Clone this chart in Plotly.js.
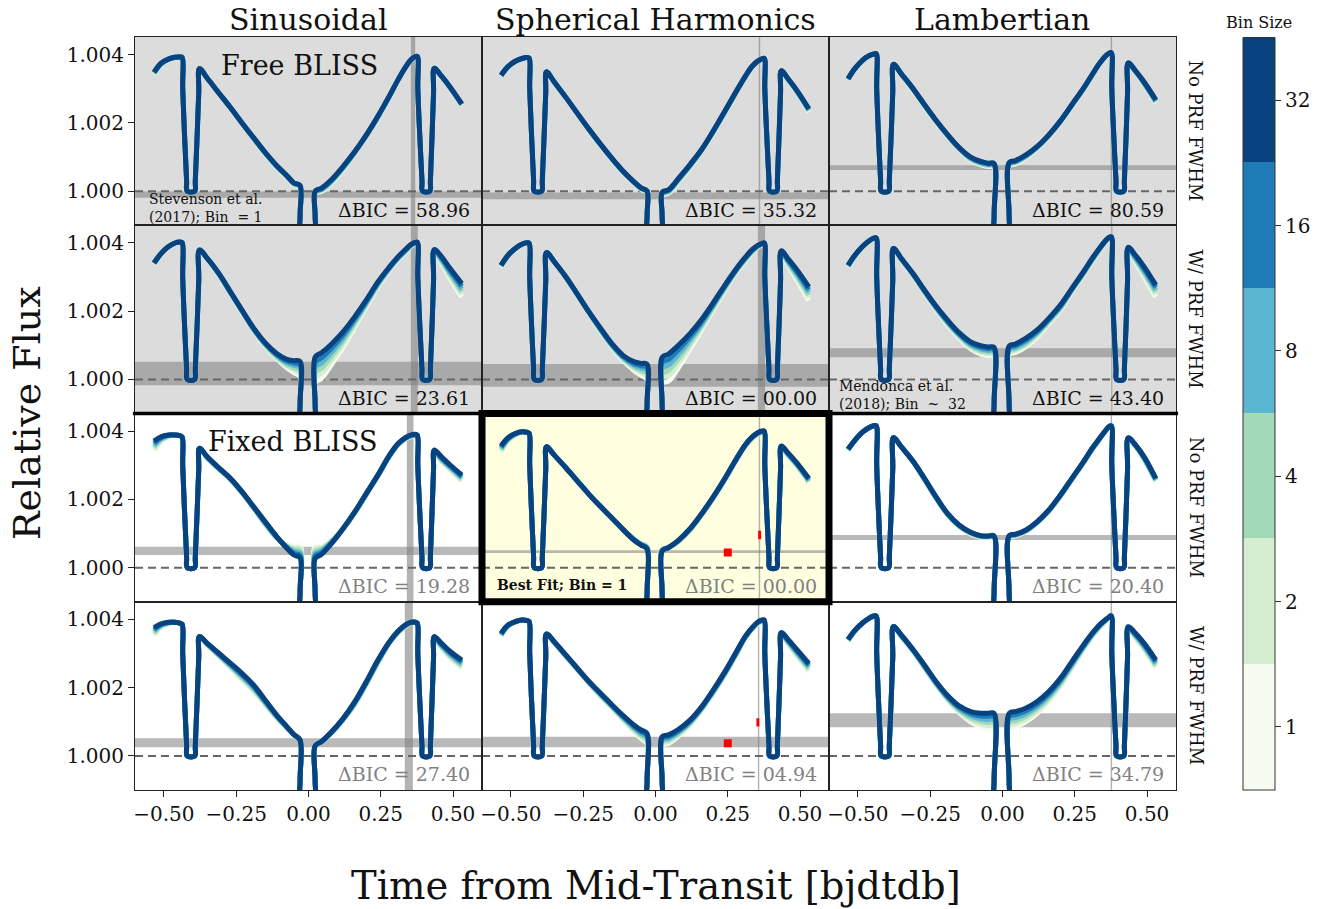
<!DOCTYPE html>
<html><head><meta charset="utf-8">
<script src="https://cdn.plot.ly/plotly-3.0.1.min.js"></script>
<style>html,body{margin:0;padding:0;background:#fff}#chart{width:1337px;height:909px}</style>
</head><body><div id="chart"></div>
<script>
// ---------- labels ----------
const MODELS = ['Sinusoidal', 'Spherical Harmonics', 'Lambertian'];
const ROW_LABELS = ['No PRF FWHM', 'W/ PRF FWHM', 'No PRF FWHM', 'W/ PRF FWHM'];
const BINS = ['1', '2', '4', '8', '16', '32'];
const BIN_COLORS = ['#f5fbef', '#d5eecf', '#a1dab8', '#5bb6d2', '#1f7bb6', '#08427f'];
const DBIC = ['58.96', '35.32', '80.59', '23.61', '00.00', '43.40', '19.28', '00.00', '20.40', '27.40', '04.94', '34.79'];
const X_TICKS = [-0.5, -0.25, 0, 0.25, 0.5];
const Y_TICKS = [1.000, 1.002, 1.004];
const X_RANGE = [-0.6, 0.6];
const Y_RANGE = [0.99900, 1.00452];
const BASELINE = 1.0;

// ---------- time grid (days from mid-transit) ----------
const T_LA = [-0.534, -0.510, -0.485, -0.462, -0.445, -0.437];
const T_ECL1 = [-0.435, -0.4215, -0.4195, -0.3935, -0.3915, -0.3795];
const V_ECL1 = [3000, 300, 0, 0, 300, 2900];
const T_DEC = [-0.377, -0.350, -0.310, -0.270, -0.230, -0.190, -0.150, -0.110, -0.075, -0.050, -0.0295];
const T_TRANSIT = [-0.0290, -0.0287, 0.0225, 0.0228];
const V_TRANSIT = [-700, -2500, -2500, -700];
const T_RISE = [0.0232, 0.045, 0.080, 0.120, 0.160, 0.200, 0.240, 0.280, 0.310, 0.335, 0.355, 0.368, 0.376];
const T_ECL2 = [0.378, 0.3925, 0.3945, 0.4195, 0.4215, 0.4325];
const V_ECL2 = [3000, 300, 0, 0, 300, 2900];
const T_END = [0.435, 0.460, 0.490, 0.530];

// ---------- flux (ppm above 1) : LA(6) | DEC(11) | RISE(13) | END(4) ----------
const R1C1_B32 = [3490,3750,3870,3925,3930,3920, 3590,3310,2880,2450,2000,1570,1140,750,460,240,170, 0,90,340,730,1160,1650,2200,2800,3270,3630,3860,3940,3950, 3600,3370,3050,2560];
const R1C1_B16 = [3480,3740,3870,3925,3930,3920, 3590,3310,2880,2450,2000,1560,1130,740,450,230,160, -10,70,320,710,1150,1640,2190,2790,3270,3630,3860,3940,3950, 3600,3370,3040,2550];
const R1C1_B8  = [3470,3730,3870,3925,3930,3920, 3590,3310,2880,2450,2000,1550,1120,730,440,220,150, -20,50,300,690,1140,1630,2180,2780,3270,3630,3860,3940,3950, 3600,3370,3030,2540];
const R1C1_B4  = [3460,3720,3870,3925,3930,3920, 3590,3310,2880,2450,2000,1540,1110,720,430,210,140, -30,30,280,670,1130,1620,2170,2770,3270,3630,3860,3940,3950, 3600,3370,3020,2530];
const R1C1_B2  = [3450,3710,3870,3925,3930,3920, 3590,3310,2880,2450,2000,1530,1100,710,420,200,130, -40,10,260,650,1120,1610,2160,2760,3270,3630,3860,3940,3950, 3600,3370,3010,2520];
const R1C1_B1  = [3440,3700,3870,3925,3930,3920, 3590,3310,2880,2450,2000,1520,1090,700,410,190,120, -50,-10,240,630,1110,1600,2150,2750,3270,3630,3860,3940,3950, 3600,3370,3000,2510];

const R1C2_B32 = [3400,3650,3810,3890,3920,3900, 3500,3200,2750,2280,1820,1380,960,570,280,100,10, -30,40,380,790,1230,1770,2350,2940,3360,3670,3820,3880,3890, 3530,3280,2940,2420];
const R1C2_B16 = [3400,3650,3810,3890,3920,3900, 3500,3200,2750,2280,1810,1370,950,560,270,90,0, -50,20,360,770,1220,1760,2340,2930,3360,3670,3820,3880,3890, 3530,3270,2930,2400];
const R1C2_B8  = [3400,3650,3810,3890,3920,3900, 3500,3200,2750,2280,1800,1360,940,550,260,80,-10, -70,0,340,750,1210,1750,2330,2920,3360,3670,3820,3880,3890, 3530,3260,2920,2380];
const R1C2_B4  = [3400,3650,3810,3890,3920,3900, 3500,3200,2750,2280,1790,1350,930,540,250,70,-20, -90,-20,320,730,1200,1740,2320,2910,3360,3670,3820,3880,3890, 3530,3250,2910,2360];
const R1C2_B2  = [3400,3650,3810,3890,3920,3900, 3500,3200,2750,2280,1780,1340,920,530,240,60,-30, -110,-40,300,710,1190,1730,2310,2900,3360,3670,3820,3880,3890, 3530,3240,2900,2340];
const R1C2_B1  = [3400,3650,3810,3890,3920,3900, 3500,3200,2750,2280,1770,1330,910,520,230,50,-40, -130,-60,280,690,1180,1720,2300,2890,3360,3670,3820,3880,3890, 3530,3230,2890,2320];

const R1C3_B32 = [3300,3600,3830,3970,4020,4030, 3720,3440,3020,2540,2080,1660,1280,1000,870,820,810, 840,900,1060,1310,1650,2060,2540,3020,3420,3740,3950,4040,4060, 3760,3530,3200,2680];
const R1C3_B16 = [3290,3600,3830,3970,4020,4030, 3720,3440,3010,2530,2070,1650,1270,980,850,800,790, 820,880,1040,1300,1640,2050,2530,3010,3410,3740,3950,4040,4060, 3750,3520,3180,2660];
const R1C3_B8  = [3280,3600,3830,3970,4020,4030, 3720,3440,3000,2520,2060,1640,1260,960,830,780,770, 800,860,1020,1290,1630,2040,2520,3000,3400,3740,3950,4040,4060, 3740,3510,3160,2640];
const R1C3_B4  = [3270,3600,3830,3970,4020,4030, 3720,3440,2990,2510,2050,1630,1250,940,810,760,750, 780,840,1000,1280,1620,2030,2510,2990,3390,3740,3950,4040,4060, 3730,3500,3140,2620];
const R1C3_B2  = [3260,3600,3830,3970,4020,4030, 3720,3440,2980,2500,2040,1620,1240,920,790,740,730, 760,820,980,1270,1610,2020,2500,2980,3380,3740,3950,4040,4060, 3720,3490,3120,2600];
const R1C3_B1  = [3250,3600,3830,3970,4020,4030, 3720,3440,2970,2490,2030,1610,1230,900,770,720,710, 740,800,960,1260,1600,2010,2490,2970,3370,3740,3950,4040,4060, 3710,3480,3100,2580];

const R2C1_B32 = [3420,3690,3890,4000,4030,4010, 3790,3550,3110,2570,2030,1510,1075,760,590,550,530, 660,780,1040,1400,1840,2330,2860,3300,3600,3810,3960,4015,4025, 3810,3600,3250,2810];
const R2C1_B16 = [3410,3690,3890,4000,4030,4010, 3790,3550,3100,2560,2020,1490,1055,730,540,480,440, 510,630,920,1310,1780,2290,2830,3280,3580,3790,3950,4005,4015, 3790,3560,3190,2730];
const R2C1_B8  = [3400,3690,3890,4000,4030,4010, 3790,3550,3090,2550,2010,1470,1035,700,490,410,350, 360,480,800,1220,1720,2250,2800,3260,3560,3770,3940,3995,4005, 3770,3520,3130,2650];
const R2C1_B4  = [3390,3690,3890,4000,4030,4010, 3790,3550,3080,2540,2000,1450,1015,670,440,340,260, 210,330,680,1130,1660,2210,2770,3240,3540,3750,3930,3985,3995, 3750,3480,3070,2570];
const R2C1_B2  = [3380,3690,3890,4000,4030,4010, 3790,3550,3070,2530,1990,1430,995,640,390,270,170, 60,180,560,1040,1600,2170,2740,3220,3520,3730,3920,3975,3985, 3730,3440,3010,2490];
const R2C1_B1  = [3370,3690,3890,4000,4030,4010, 3790,3550,3060,2520,1980,1410,975,610,340,200,80, -90,30,440,950,1540,2130,2710,3200,3500,3710,3910,3965,3975, 3710,3400,2950,2410];

const R2C2_B32 = [3350,3640,3840,3965,4005,3990, 3720,3450,3010,2500,1980,1500,1040,690,520,470,450, 645,745,1005,1350,1760,2250,2765,3250,3575,3810,3935,3985,4005, 3770,3520,3200,2715];
const R2C2_B16 = [3340,3640,3840,3965,4005,3990, 3720,3450,3000,2490,1970,1480,1020,660,470,400,360, 495,585,875,1260,1700,2210,2735,3230,3555,3790,3925,3975,3995, 3750,3480,3140,2635];
const R2C2_B8  = [3330,3640,3840,3965,4005,3990, 3720,3450,2990,2480,1960,1460,1000,630,420,330,270, 345,425,745,1170,1640,2170,2705,3210,3535,3770,3915,3965,3985, 3730,3440,3080,2555];
const R2C2_B4  = [3320,3640,3840,3965,4005,3990, 3720,3450,2980,2470,1950,1440,980,600,370,260,180, 195,265,615,1080,1580,2130,2675,3190,3515,3750,3905,3955,3975, 3710,3400,3020,2475];
const R2C2_B2  = [3310,3640,3840,3965,4005,3990, 3720,3450,2970,2460,1940,1420,960,570,320,190,90, 45,105,485,990,1520,2090,2645,3170,3495,3730,3895,3945,3965, 3690,3360,2960,2395];
const R2C2_B1  = [3300,3640,3840,3965,4005,3990, 3720,3450,2960,2450,1930,1400,940,540,270,120,0, -105,-55,355,900,1460,2050,2615,3150,3475,3710,3885,3935,3955, 3670,3320,2900,2315];

const R2C3_B32 = [3350,3650,3890,4060,4140,4150, 3840,3550,3110,2620,2150,1740,1370,1100,990,950,940, 980,1040,1200,1450,1790,2180,2670,3160,3550,3840,4060,4160,4180, 3870,3640,3300,2770];
const R2C3_B16 = [3340,3640,3890,4060,4140,4150, 3840,3540,3100,2600,2130,1710,1340,1060,940,900,890, 930,990,1150,1410,1760,2150,2650,3140,3530,3830,4050,4160,4180, 3850,3600,3240,2700];
const R2C3_B8  = [3330,3630,3890,4060,4140,4150, 3840,3530,3090,2580,2110,1680,1310,1020,890,850,840, 880,940,1100,1370,1730,2120,2630,3120,3510,3820,4040,4160,4180, 3830,3560,3180,2630];
const R2C3_B4  = [3320,3620,3890,4060,4140,4150, 3840,3520,3080,2560,2090,1650,1280,980,840,800,790, 830,890,1050,1330,1700,2090,2610,3100,3490,3810,4030,4160,4180, 3810,3520,3120,2560];
const R2C3_B2  = [3310,3610,3890,4060,4140,4150, 3840,3510,3070,2540,2070,1620,1250,940,790,750,740, 780,840,1000,1290,1670,2060,2590,3080,3470,3800,4020,4160,4180, 3790,3480,3060,2490];
const R2C3_B1  = [3300,3600,3890,4060,4140,4150, 3840,3500,3060,2520,2050,1590,1220,900,740,700,690, 730,790,950,1250,1640,2030,2570,3060,3450,3790,4010,4160,4180, 3770,3440,3000,2420];

const R3C1_B32 = [3710,3840,3890,3890,3870,3830, 3500,3250,2930,2620,2230,1790,1350,910,570,370,290, 270,390,710,1150,1640,2180,2720,3300,3640,3810,3890,3910,3890, 3450,3250,3010,2720];
const R3C1_B16 = [3650,3810,3880,3890,3870,3830, 3500,3240,2920,2610,2220,1780,1330,900,590,420,360, 340,440,730,1150,1630,2170,2710,3290,3630,3800,3880,3900,3880, 3430,3220,2980,2680];
const R3C1_B8  = [3590,3780,3870,3890,3870,3830, 3500,3230,2910,2600,2210,1770,1310,890,610,470,430, 410,490,750,1150,1620,2160,2700,3280,3620,3790,3870,3890,3870, 3410,3190,2950,2640];
const R3C1_B4  = [3530,3750,3860,3890,3870,3830, 3500,3220,2900,2590,2200,1760,1290,880,630,520,500, 480,540,770,1150,1610,2150,2690,3270,3610,3780,3860,3880,3860, 3390,3160,2920,2600];
const R3C1_B2  = [3470,3720,3850,3890,3870,3830, 3500,3210,2890,2580,2190,1750,1270,870,650,570,570, 550,590,790,1150,1600,2140,2680,3260,3600,3770,3850,3870,3850, 3370,3130,2890,2560];
const R3C1_B1  = [3410,3690,3840,3890,3870,3830, 3500,3200,2880,2570,2180,1740,1250,860,670,620,640, 620,640,810,1150,1590,2130,2670,3250,3590,3760,3840,3860,3840, 3350,3100,2860,2520];

const R3C2_B32 = [3575,3810,3935,3985,3970,3940, 3545,3300,2930,2540,2150,1790,1450,1100,810,660,550, 490,590,810,1150,1590,2080,2620,3200,3600,3840,3965,4005,4005, 3565,3350,3060,2620];
const R3C2_B16 = [3535,3790,3925,3985,3970,3940, 3545,3300,2930,2540,2150,1790,1450,1100,820,670,570, 500,590,800,1140,1580,2070,2610,3190,3590,3830,3955,3995,3995, 3555,3330,3040,2590];
const R3C2_B8  = [3495,3770,3915,3985,3970,3940, 3545,3300,2930,2540,2150,1790,1450,1100,830,680,590, 510,590,790,1130,1570,2060,2600,3180,3580,3820,3945,3985,3985, 3545,3310,3020,2560];
const R3C2_B4  = [3455,3750,3905,3985,3970,3940, 3545,3300,2930,2540,2150,1790,1450,1100,840,690,610, 520,590,780,1120,1560,2050,2590,3170,3570,3810,3935,3975,3975, 3535,3290,3000,2530];
const R3C2_B2  = [3415,3730,3895,3985,3970,3940, 3545,3300,2930,2540,2150,1790,1450,1100,850,700,630, 530,590,770,1110,1550,2040,2580,3160,3560,3800,3925,3965,3965, 3525,3270,2980,2500];
const R3C2_B1  = [3375,3710,3885,3985,3970,3940, 3545,3300,2930,2540,2150,1790,1450,1100,860,710,650, 540,590,760,1100,1540,2030,2570,3150,3550,3790,3915,3955,3955, 3515,3250,2960,2470];

const R3C3_B32 = [3480,3740,3965,4100,4160,4160, 3810,3545,3125,2620,2080,1590,1250,1040,940,930,930, 940,980,1100,1350,1690,2130,2620,3110,3500,3790,4005,4130,4160, 3810,3600,3250,2620];
const R3C3_B16 = [3470,3740,3965,4100,4160,4160, 3810,3545,3125,2610,2070,1580,1240,1030,930,920,920, 930,970,1090,1340,1680,2120,2610,3100,3490,3780,4005,4130,4160, 3800,3590,3230,2600];
const R3C3_B8  = [3460,3740,3965,4100,4160,4160, 3810,3545,3125,2600,2060,1570,1230,1020,920,910,910, 920,960,1080,1330,1670,2110,2600,3090,3480,3770,4005,4130,4160, 3790,3580,3210,2580];
const R3C3_B4  = [3450,3740,3965,4100,4160,4160, 3810,3545,3125,2590,2050,1560,1220,1010,910,900,900, 910,950,1070,1320,1660,2100,2590,3080,3470,3760,4005,4130,4160, 3780,3570,3190,2560];
const R3C3_B2  = [3440,3740,3965,4100,4160,4160, 3810,3545,3125,2580,2040,1550,1210,1000,900,890,890, 900,940,1060,1310,1650,2090,2580,3070,3460,3750,4005,4130,4160, 3770,3560,3170,2540];
const R3C3_B1  = [3430,3740,3965,4100,4160,4160, 3810,3545,3125,2570,2030,1540,1200,990,890,880,880, 890,930,1050,1300,1640,2080,2570,3060,3450,3740,4005,4130,4160, 3760,3550,3150,2520];

const R4C1_B32 = [3760,3870,3920,3920,3890,3860, 3500,3300,3010,2720,2420,2080,1640,1200,860,620,470, 300,420,710,1100,1590,2180,2810,3350,3660,3840,3920,3920,3890, 3500,3300,3060,2810];
const R4C1_B16 = [3710,3850,3910,3920,3890,3860, 3500,3290,2990,2690,2380,2040,1610,1180,850,620,470, 300,420,700,1090,1570,2160,2790,3340,3650,3830,3920,3920,3890, 3480,3270,3020,2760];
const R4C1_B8  = [3660,3830,3900,3920,3890,3860, 3500,3280,2970,2660,2340,2000,1580,1160,840,620,470, 300,420,690,1080,1550,2140,2770,3330,3640,3820,3920,3920,3890, 3460,3240,2980,2710];
const R4C1_B4  = [3610,3810,3890,3920,3890,3860, 3500,3270,2950,2630,2300,1960,1550,1140,830,620,470, 300,420,680,1070,1530,2120,2750,3320,3630,3810,3920,3920,3890, 3440,3210,2940,2660];
const R4C1_B2  = [3560,3790,3880,3920,3890,3860, 3500,3260,2930,2600,2260,1920,1520,1120,820,620,470, 300,420,670,1060,1510,2100,2730,3310,3620,3800,3920,3920,3890, 3420,3180,2900,2610];
const R4C1_B1  = [3510,3770,3870,3920,3890,3860, 3500,3250,2910,2570,2220,1880,1490,1100,810,620,470, 300,420,660,1050,1490,2080,2710,3300,3610,3790,3920,3920,3890, 3400,3150,2860,2560];

const R4C2_B32 = [3595,3840,3935,3985,3970,3940, 3575,3350,2960,2570,2180,1840,1495,1170,910,760,665, 565,615,780,1055,1445,1935,2470,3060,3500,3770,3935,3985,3985, 3615,3400,3105,2715];
const R4C2_B16 = [3575,3830,3935,3985,3970,3940, 3575,3340,2950,2560,2170,1820,1475,1140,870,710,605, 515,565,740,1025,1425,1915,2450,3040,3490,3760,3925,3975,3975, 3595,3370,3065,2665];
const R4C2_B8  = [3555,3820,3935,3985,3970,3940, 3575,3330,2940,2550,2160,1800,1455,1110,830,660,545, 465,515,700,995,1405,1895,2430,3020,3480,3750,3915,3965,3965, 3575,3340,3025,2615];
const R4C2_B4  = [3535,3810,3935,3985,3970,3940, 3575,3320,2930,2540,2150,1780,1435,1080,790,610,485, 415,465,660,965,1385,1875,2410,3000,3470,3740,3905,3955,3955, 3555,3310,2985,2565];
const R4C2_B2  = [3515,3800,3935,3985,3970,3940, 3575,3310,2920,2530,2140,1760,1415,1050,750,560,425, 365,415,620,935,1365,1855,2390,2980,3460,3730,3895,3945,3945, 3535,3280,2945,2515];
const R4C2_B1  = [3495,3790,3935,3985,3970,3940, 3575,3300,2910,2520,2130,1740,1395,1020,710,510,365, 315,365,580,905,1345,1835,2370,2960,3450,3720,3885,3935,3935, 3515,3250,2905,2465];

const R4C3_B32 = [3420,3690,3890,4035,4100,4100, 3790,3545,3125,2665,2180,1770,1465,1300,1250,1250,1250, 1250,1300,1395,1595,1885,2275,2765,3255,3595,3840,3985,4065,4105, 3790,3595,3300,2815];
const R4C3_B16 = [3410,3680,3890,4035,4100,4100, 3790,3535,3115,2645,2160,1740,1425,1240,1170,1160,1160, 1160,1210,1315,1525,1825,2225,2725,3225,3575,3820,3975,4065,4105, 3770,3565,3260,2765];
const R4C3_B8  = [3400,3670,3890,4035,4100,4100, 3790,3525,3105,2625,2140,1710,1385,1180,1090,1070,1070, 1070,1120,1235,1455,1765,2175,2685,3195,3555,3800,3965,4065,4105, 3750,3535,3220,2715];
const R4C3_B4  = [3390,3660,3890,4035,4100,4100, 3790,3515,3095,2605,2120,1680,1345,1120,1010,980,980, 980,1030,1155,1385,1705,2125,2645,3165,3535,3780,3955,4065,4105, 3730,3505,3180,2665];
const R4C3_B2  = [3380,3650,3890,4035,4100,4100, 3790,3505,3085,2585,2100,1650,1305,1060,930,890,890, 890,940,1075,1315,1645,2075,2605,3135,3515,3760,3945,4065,4105, 3710,3475,3140,2615];
const R4C3_B1  = [3370,3640,3890,4035,4100,4100, 3790,3495,3075,2565,2080,1620,1265,1000,850,800,800, 800,850,995,1245,1585,2025,2565,3105,3495,3740,3935,4065,4105, 3690,3445,3100,2565];

// ---------- bands (ppm / days), row-major panels ----------
const HBAND_LO = [-190, -235, 620, -170, -215, 650, 370, 430, 810, 255, 255, 840];
const HBAND_HI = [-10, -40, 760, 520, 450, 910, 615, 510, 955, 520, 565, 1250];
const VBAND_LO = [0.354, 0.357, 0.374, 0.354, 0.354, 0.376, 0.340, 0.357, 0.374, 0.333, 0.354, 0.374];
const VBAND_HI = [0.369, 0.362, 0.379, 0.378, 0.379, 0.380, 0.363, 0.362, 0.379, 0.361, 0.359, 0.379];

// ---------- red points (Spherical Harmonics, fixed BLISS) ----------
const RED_PANEL = [8, 11];
const RED_T = [0.250, 0.250];
const RED_V = [441, 370];
const RED_BAR_T = [0.360, 0.354];
const RED_BAR_LO = [830, 860];
const RED_BAR_HI = [1080, 1105];

// ---------- build ----------
const PANEL_CURVES = [
  [R1C1_B1, R1C1_B2, R1C1_B4, R1C1_B8, R1C1_B16, R1C1_B32],
  [R1C2_B1, R1C2_B2, R1C2_B4, R1C2_B8, R1C2_B16, R1C2_B32],
  [R1C3_B1, R1C3_B2, R1C3_B4, R1C3_B8, R1C3_B16, R1C3_B32],
  [R2C1_B1, R2C1_B2, R2C1_B4, R2C1_B8, R2C1_B16, R2C1_B32],
  [R2C2_B1, R2C2_B2, R2C2_B4, R2C2_B8, R2C2_B16, R2C2_B32],
  [R2C3_B1, R2C3_B2, R2C3_B4, R2C3_B8, R2C3_B16, R2C3_B32],
  [R3C1_B1, R3C1_B2, R3C1_B4, R3C1_B8, R3C1_B16, R3C1_B32],
  [R3C2_B1, R3C2_B2, R3C2_B4, R3C2_B8, R3C2_B16, R3C2_B32],
  [R3C3_B1, R3C3_B2, R3C3_B4, R3C3_B8, R3C3_B16, R3C3_B32],
  [R4C1_B1, R4C1_B2, R4C1_B4, R4C1_B8, R4C1_B16, R4C1_B32],
  [R4C2_B1, R4C2_B2, R4C2_B4, R4C2_B8, R4C2_B16, R4C2_B32],
  [R4C3_B1, R4C3_B2, R4C3_B4, R4C3_B8, R4C3_B16, R4C3_B32]
];
const T_ALL = [...T_LA, ...T_ECL1, ...T_DEC, ...T_TRANSIT, ...T_RISE, ...T_ECL2, ...T_END];
const toFlux = p => BASELINE + p * 1e-6;
function fullCurve(v) {
  const ppm = [...v.slice(0, 6), ...V_ECL1, ...v.slice(6, 17), ...V_TRANSIT, ...v.slice(17, 30), ...V_ECL2, ...v.slice(30, 34)];
  return ppm.map(toFlux);
}
const FONT = 'DejaVu Serif, serif';
const traces = [];
const layout = {
  width: 1337, height: 909,
  margin: {l: 135, r: 161, t: 37, b: 119, pad: 0},
  paper_bgcolor: '#ffffff', plot_bgcolor: '#ffffff',
  showlegend: false,
  font: {family: FONT, color: '#111', size: 18},
  shapes: [], annotations: []
};
const sfx = i => (i === 0 ? '' : String(i + 1));

for (let i = 0; i < 12; i++) {
  const r = Math.floor(i / 3), c = i % 3, s = sfx(i);
  layout['xaxis' + s] = {
    domain: [c / 3, (c + 1) / 3], range: X_RANGE, anchor: 'y' + s,
    showline: true, mirror: true, linecolor: '#222', linewidth: 1,
    showgrid: false, zeroline: false,
    ticks: r === 3 ? 'outside' : '', ticklen: 6, tickcolor: '#222',
    showticklabels: r === 3, tickmode: 'array', tickvals: X_TICKS, tickformat: '.2f',
    tickfont: {size: 20, family: FONT, color: '#111'}
  };
  layout['yaxis' + s] = {
    domain: [1 - (r + 1) / 4, 1 - r / 4], range: Y_RANGE, anchor: 'x' + s,
    showline: true, mirror: true, linecolor: '#222', linewidth: 1,
    showgrid: false, zeroline: false,
    ticks: c === 0 ? 'outside' : '', ticklen: 6, tickcolor: '#222',
    showticklabels: c === 0, tickmode: 'array', tickvals: Y_TICKS, tickformat: '.3f',
    tickfont: {size: 20, family: FONT, color: '#111'}
  };
  const bg = (i === 7) ? '#ffffe0' : (r < 2 ? '#dcdcdc' : '#ffffff');
  layout.shapes.push({type: 'rect', layer: 'below', xref: 'x' + s + ' domain', yref: 'y' + s + ' domain',
    x0: 0, x1: 1, y0: 0, y1: 1, fillcolor: bg, line: {width: 0}});
  layout.shapes.push({type: 'rect', layer: 'below', xref: 'x' + s + ' domain', yref: 'y' + s,
    x0: 0, x1: 1, y0: toFlux(HBAND_LO[i]), y1: toFlux(HBAND_HI[i]),
    fillcolor: 'rgba(128,128,128,0.55)', line: {width: 0}});
  layout.shapes.push({type: 'rect', layer: 'below', xref: 'x' + s, yref: 'y' + s + ' domain',
    x0: VBAND_LO[i], x1: VBAND_HI[i], y0: 0, y1: 1,
    fillcolor: 'rgba(128,128,128,0.6)', line: {width: 0}});
  layout.shapes.push({type: 'line', layer: 'below', xref: 'x' + s + ' domain', yref: 'y' + s,
    x0: 0, x1: 1, y0: BASELINE, y1: BASELINE, line: {color: '#666', width: 2, dash: '8px,5px'}});

  PANEL_CURVES[i].forEach((v, k) => {
    traces.push({
      type: 'scatter', mode: 'lines', x: T_ALL, y: fullCurve(v),
      xaxis: 'x' + s, yaxis: 'y' + s, hoverinfo: 'skip', showlegend: false,
      line: {color: BIN_COLORS[k], width: 5, shape: 'spline', smoothing: 1, simplify: false}
    });
  });

  layout.annotations.push({
    xref: 'x' + s + ' domain', yref: 'y' + s + ' domain', x: 0.972, y: 0.083,
    xanchor: 'right', yanchor: 'middle', showarrow: false,
    text: '\u0394BIC = ' + DBIC[i],
    font: {family: FONT, size: 19, color: r < 2 ? '#111' : '#808080'}
  });
}

RED_PANEL.forEach((p, j) => {
  const s = sfx(p - 1);
  traces.push({type: 'scatter', mode: 'markers', x: [RED_T[j]], y: [toFlux(RED_V[j])],
    xaxis: 'x' + s, yaxis: 'y' + s, hoverinfo: 'skip',
    marker: {symbol: 'square', size: 8, color: '#ff0000', line: {width: 0}}});
  traces.push({type: 'scatter', mode: 'lines', x: [RED_BAR_T[j], RED_BAR_T[j]],
    y: [toFlux(RED_BAR_LO[j]), toFlux(RED_BAR_HI[j])],
    xaxis: 'x' + s, yaxis: 'y' + s, hoverinfo: 'skip',
    line: {color: '#ff0000', width: 3}});
});

// colorbar
const CS = [];
BIN_COLORS.forEach((col, k) => { CS.push([k / 6, col]); CS.push([(k + 1) / 6, col]); });
traces.push({
  type: 'scatter', mode: 'markers', x: [null], y: [null], xaxis: 'x', yaxis: 'y',
  hoverinfo: 'skip', showlegend: false,
  marker: {color: [0], cmin: 0, cmax: 6, colorscale: CS, showscale: true,
    colorbar: {
      x: 1.0644, xanchor: 'left', xpad: 0, y: 0.5, yanchor: 'middle', ypad: 0,
      len: 752, lenmode: 'pixels', thickness: 32, thicknessmode: 'pixels',
      outlinewidth: 1, outlinecolor: '#333', borderwidth: 0,
      tickmode: 'array', tickvals: [0.5, 1.5, 2.5, 3.5, 4.5, 5.5], ticktext: BINS,
      ticks: 'outside', ticklen: 6, tickwidth: 1, tickcolor: '#333',
      tickfont: {size: 20, family: FONT, color: '#111'}
    }}
});

// overlay frames
layout.shapes.push({type: 'line', layer: 'above', xref: 'paper', yref: 'paper',
  x0: -0.002, x1: 1.002, y0: 0.5, y1: 0.5, line: {color: '#000', width: 3.5}});
layout.shapes.push({type: 'rect', layer: 'above', xref: 'x8 domain', yref: 'y8 domain',
  x0: 0, x1: 1, y0: 0, y1: 1, line: {color: '#000', width: 7}});

// text
MODELS.forEach((m, c) => layout.annotations.push({
  xref: 'paper', yref: 'paper', x: c / 3 + 1 / 6, y: 1.0239, xanchor: 'center', yanchor: 'middle',
  showarrow: false, text: m, font: {family: FONT, size: 30, color: '#111'}}));
ROW_LABELS.forEach((t, r) => layout.annotations.push({
  xref: 'paper', yref: 'paper', x: 1.0192, y: 1 - (r + 0.5) / 4, xanchor: 'center', yanchor: 'middle',
  textangle: 90, showarrow: false, text: t, font: {family: FONT, size: 18, color: '#111'}}));
layout.annotations.push(
  {xref: 'x domain', yref: 'y domain', x: 0.4755, y: 0.846, xanchor: 'center', yanchor: 'middle',
   showarrow: false, text: 'Free BLISS', font: {family: FONT, size: 27, color: '#111'}},
  {xref: 'x7 domain', yref: 'y7 domain', x: 0.454, y: 0.85, xanchor: 'center', yanchor: 'middle',
   showarrow: false, text: 'Fixed BLISS', font: {family: FONT, size: 27, color: '#111'}},
  {xref: 'x domain', yref: 'y domain', x: 0.034, y: 0.09, xanchor: 'left', yanchor: 'middle', align: 'left',
   showarrow: false, text: 'Stevenson et al.<br>(2017); Bin \u00a0= 1', font: {family: FONT, size: 14, color: '#111'}},
  {xref: 'x6 domain', yref: 'y6 domain', x: 0.022, y: 0.10, xanchor: 'left', yanchor: 'middle', align: 'left',
   showarrow: false, text: 'Mendonca et al.<br>(2018); Bin \u00a0~ \u00a032', font: {family: FONT, size: 14, color: '#111'}},
  {xref: 'x8 domain', yref: 'y8 domain', x: 0.037, y: 0.091, xanchor: 'left', yanchor: 'middle',
   showarrow: false, text: '<b>Best Fit; Bin = 1</b>', font: {family: FONT, size: 14, color: '#111'}},
  {xref: 'paper', yref: 'paper', x: -0.1037, y: 0.5007, xanchor: 'center', yanchor: 'middle',
   textangle: -90, showarrow: false, text: 'Relative Flux', font: {family: FONT, size: 38, color: '#111'}},
  {xref: 'paper', yref: 'paper', x: 0.5005, y: -0.1262, xanchor: 'center', yanchor: 'middle',
   showarrow: false, text: 'Time from Mid-Transit [bjdtdb]', font: {family: FONT, size: 38.5, color: '#111'}},
  {xref: 'paper', yref: 'paper', x: 1.0797, y: 1.0199, xanchor: 'center', yanchor: 'middle',
   showarrow: false, text: 'Bin Size', font: {family: FONT, size: 16, color: '#111'}}
);

Plotly.newPlot('chart', traces, layout, {staticPlot: true, displayModeBar: false});
</script>
</body></html>
